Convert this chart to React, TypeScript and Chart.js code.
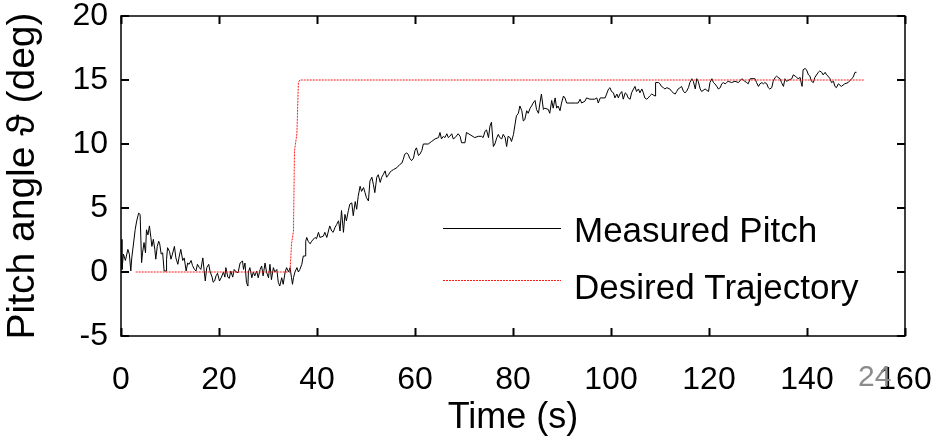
import React, { useEffect, useRef } from "react";
import { Chart, registerables } from "chart.js";

Chart.register(...registerables);

// ---- data ----
const timeSeg1 = [
  0, 0.2, 0.5, 0.9, 1.4, 1.7, 2.0, 2.2, 2.9, 3.2,
  3.6, 3.9, 4.2, 4.4, 4.7, 5.0, 5.2, 5.5, 5.8, 6.1,
  6.3, 6.6, 6.9, 7.1, 7.4, 7.7, 7.9, 8.2, 8.5, 8.8,
  9.2, 9.3, 9.5, 9.9, 10.2, 10.5, 10.9, 11.2, 11.6, 11.9,
  12.2, 12.6, 12.9, 13.3, 13.6, 13.9, 14.3, 14.6, 15.0, 15.3,
  15.6, 16.0, 16.3, 16.7, 17.0, 17.2, 17.5, 17.9, 18.2, 18.6,
  18.8, 19.1, 19.4, 19.7, 20.1, 20.5, 20.9, 21.2, 21.4, 21.8,
  22.1, 22.4, 22.8, 23.1, 23.5,
];
const pitchSeg1 = [
  2.55, 0.2, 1.4, 0.9, 1.77, 1.4, 0.08, 1.1, 3.33, 3.98,
  4.6, 4.5, 0.73, 1.5, 2.3, 1.5, 3.3, 2.9, 3.6, 2.7,
  2.0, 2.55, 1.77, 1.0, 2.0, 2.4, 2.2, 1.4, 1.5, 0.08,
  0.08, 1.0, 1.9, 1.6, 1.0, 1.4, 2.0, 1.1, 0.6, 1.25,
  1.77, 0.9, 1.1, 0.08, 0.7, 0.6, 0.9, 0.5, 0.2, 0.08,
  0.6, 0.34, 0.2, 1.1, 0.0, -0.7, 0.34, 0.6, 0.0, -0.4,
  -0.8, -0.7, -0.3, -0.1, -0.7, -0.4, 0.0, -0.4, 0.34, -0.4,
  -0.5, 0.08, -0.4, 0.2, 0.0,
];

const timeSeg2 = [
  23.9, 24.3, 24.8, 25.0, 25.3, 25.6, 25.9, 26.0, 26.3, 26.7,
  27.0, 27.3, 27.7, 28.0, 28.4, 28.7, 29.0, 29.4, 29.7, 30.1,
  30.4, 30.7, 31.1, 31.4, 31.8, 32.1, 32.4, 32.8, 33.1, 33.5,
  33.8, 34.2, 34.5, 34.8, 35.0, 35.2, 35.5, 35.9, 36.2, 36.5,
  36.9, 37.2, 37.6, 37.7, 37.9, 38.2, 38.6, 38.9, 39.6, 39.9,
  40.3, 40.6, 41.3, 41.6, 42.0, 42.6, 43.0, 43.3, 43.7, 44.0,
  44.4, 44.7, 45.0, 45.4, 45.7, 46.0, 46.4, 46.7, 47.1, 47.4,
  47.8,
];
const pitchSeg2 = [
  -0.05, 0.7, 0.86, 0.2, 0.7, -0.8, -1.1, 0.0, 0.34, -0.45,
  0.0, -0.3, 0.08, -0.45, 0.2, 0.47, -0.3, 0.7, 0.0, -0.45,
  0.6, -0.6, 0.34, 0.0, 0.2, -0.8, -1.1, -0.45, -0.96, 0.0,
  0.34, 0.0, 0.34, -0.45, -0.96, -0.45, 0.0, 0.34, 0.0, 0.2,
  0.6, 1.25, 1.25, 2.4, 2.7, 2.4, 2.2, 2.4, 2.7, 2.6,
  3.1, 2.7, 2.8, 3.1, 2.7, 3.6, 3.2, 3.1, 3.5, 3.7,
  4.0, 3.2, 4.8, 3.1, 4.5, 4.0, 4.8, 5.3, 5.4, 4.4,
  5.5,
];

const timeSeg3 = [
  48.1, 48.4, 48.8, 49.1, 49.5, 49.8, 50.1, 50.5, 50.8, 51.2,
  51.5, 51.8, 52.2, 52.5, 52.9, 53.2, 53.5, 53.9, 54.2, 54.6,
  54.9, 55.2, 55.6, 56.3, 56.9, 57.3, 57.6, 57.9, 58.3, 58.6,
  58.9, 59.3, 59.7, 60.0, 60.3, 60.7, 61.0, 61.4, 61.7, 62.7,
  63.4, 64.1, 64.8, 65.1, 65.4, 65.8, 66.1, 66.5, 66.8, 67.1,
  67.5, 67.8, 68.2, 68.8, 69.2, 69.5, 70.2, 70.5,
];
const pitchSeg3 = [
  4.9, 5.9, 6.7, 6.3, 6.6, 6.2, 5.8, 5.55, 7.1, 7.4,
  6.85, 6.2, 7.4, 7.6, 7.0, 7.4, 7.6, 7.9, 7.4, 7.6,
  7.8, 7.9, 8.0, 8.15, 8.4, 8.5, 8.8, 9.2, 9.3, 9.2,
  8.9, 8.7, 8.9, 9.5, 9.7, 9.1, 9.2, 9.5, 10.0, 10.0,
  10.2, 10.4, 10.5, 10.9, 10.4, 10.6, 10.5, 10.8, 10.5, 10.6,
  10.8, 10.4, 10.5, 10.8, 10.6, 10.1, 10.1, 10.9,
];

const timeSeg4 = [
  72.2, 72.9, 73.6, 73.9, 74.3, 74.6, 75.0, 75.3, 75.6, 76.0,
  76.3, 76.7, 77.0, 77.3, 77.7, 78.0, 78.4, 78.7, 79.0, 79.4,
  79.7, 80.1, 80.4, 80.7, 81.1, 81.4, 81.8, 82.1, 82.4, 82.8,
  83.1, 83.5, 83.8, 84.1, 84.5, 84.8, 85.2, 85.5, 85.8, 86.2,
  86.5, 87.2, 87.5, 87.9, 88.2, 88.6, 88.9, 89.2, 89.6, 89.9,
  90.3, 90.6, 90.95, 92.7, 93.3, 93.7, 94.0, 94.7, 95.0, 95.7,
];
const pitchSeg4 = [
  10.5, 10.6, 10.6, 10.5, 11.0, 11.1, 10.5, 11.4, 11.7, 9.8,
  10.0, 10.5, 10.75, 10.5, 10.4, 10.75, 10.5, 9.8, 10.6, 10.5,
  10.2, 10.75, 11.5, 12.2, 12.4, 12.97, 12.6, 11.8, 11.9, 12.6,
  12.4, 12.8, 12.97, 13.2, 13.4, 12.7, 12.4, 13.2, 13.9, 12.7,
  12.8, 12.7, 12.4, 13.4, 12.8, 13.6, 12.8, 12.97, 12.6, 13.2,
  13.75, 13.6, 13.2, 13.2, 13.2, 13.5, 13.2, 13.35, 13.6, 13.5,
];

const timeSeg5 = [
  96.7, 97.1, 97.4, 97.8, 98.8, 99.1, 99.5, 99.8, 100.1, 100.5,
  100.8, 101.2, 101.5, 101.8, 102.2, 102.5, 102.9, 103.2, 103.5, 103.9,
  104.2, 104.6, 104.9, 105.2, 105.6, 105.9, 106.3, 106.6, 106.9, 107.3,
  107.6, 107.9, 108.3, 109.0, 109.1, 109.7, 110.0, 110.3, 110.7, 111.0,
  111.4, 112.0, 112.4, 112.7, 113.1, 113.4, 113.7, 114.1, 114.4, 114.8,
  115.1, 115.4, 115.8, 116.1, 116.5, 116.8, 117.2, 117.5, 117.8, 118.2,
  118.5, 119.2, 119.9, 120.2, 120.6, 120.9, 121.2, 121.6, 121.9, 122.3,
  122.6, 122.9, 123.3, 123.6, 123.9,
];
const pitchSeg5 = [
  13.5, 13.6, 13.2, 13.6, 13.6, 13.9, 14.3, 14.4, 14.1, 14.0,
  13.6, 13.9, 13.6, 13.9, 14.1, 13.5, 14.0, 13.9, 13.6, 13.5,
  14.0, 14.3, 14.5, 14.1, 14.3, 14.0, 14.3, 14.0, 13.6, 13.5,
  13.6, 13.75, 13.9, 13.75, 14.8, 14.8, 14.7, 14.5, 14.4, 14.3,
  14.4, 14.3, 14.1, 14.0, 13.9, 14.1, 14.3, 14.4, 14.5, 14.1,
  14.0, 14.1, 14.4, 14.8, 15.1, 14.9, 14.3, 15.1, 14.9, 14.3,
  14.1, 14.3, 14.1, 14.8, 15.1, 14.8, 14.7, 14.5, 14.3, 14.4,
  14.7, 14.8, 14.7, 14.8, 14.9,
];

const timeSeg6 = [
  124.6, 125.3, 126.0, 126.7, 127.3, 127.7, 128.0, 128.4, 129.4, 129.7,
  130.1, 130.4, 130.8, 131.1, 131.4, 131.8, 132.1, 132.4, 132.8, 133.1,
  133.5, 133.8, 134.1, 134.5, 134.8, 135.2, 135.5, 135.8, 136.9, 137.2,
  137.6, 137.9, 138.2, 138.6, 138.8, 139.0, 139.2, 139.6, 139.9, 140.3,
  140.6, 140.9, 141.3, 141.6, 142.3, 142.6, 143.0, 143.3, 143.7, 144.0,
  144.3, 144.7, 145.0, 145.4, 145.7, 146.0, 146.4, 147.0, 147.7, 148.4,
  149.1, 149.4, 149.8, 150.1,
];
const pitchSeg6 = [
  14.8, 14.9, 14.8, 15.1, 14.9, 14.8, 14.7, 15.1, 15.1, 14.8,
  14.5, 14.7, 14.8, 14.7, 14.8, 14.7, 14.4, 14.3, 14.4, 14.9,
  15.2, 15.3, 15.2, 15.1, 14.8, 14.5, 15.1, 14.9, 15.1, 15.4,
  15.3, 15.2, 15.1, 15.2, 14.8, 14.5, 15.8, 15.9, 15.8, 15.4,
  15.3, 14.9, 14.8, 15.2, 15.6, 15.7, 15.6, 15.4, 15.6, 15.4,
  15.3, 15.1, 14.8, 14.9, 14.5, 14.4, 14.7, 14.5, 14.7, 14.8,
  15.1, 15.2, 15.6, 15.6,
];

const desiredTime = [3, 34.5, 34.8, 35.2, 35.4, 35.9, 36.2, 36.5, 151.8];
const desiredPitch = [0, 0, 2.2, 3.2, 9.45, 10.8, 14.8, 15, 15];

const xTicks = [0, 20, 40, 60, 80, 100, 120, 140, 160];
const yTicks = [-5, 0, 5, 10, 15, 20];

const seriesLabels = ["Measured Pitch", "Desired Trajectory"];
const xTitle = "Time (s)";
const yTitle = "Pitch angle \u03D1 (deg)";
const pageNumber = "24";

// ---- helpers ----
const timeSegs = [timeSeg1, timeSeg2, timeSeg3, timeSeg4, timeSeg5, timeSeg6];
const pitchSegs = [pitchSeg1, pitchSeg2, pitchSeg3, pitchSeg4, pitchSeg5, pitchSeg6];

function buildPoints(ts: number[], vs: number[]) {
  const n = Math.min(ts.length, vs.length);
  const out: { x: number; y: number }[] = [];
  for (let i = 0; i < n; i++) out.push({ x: ts[i], y: vs[i] });
  return out;
}

const SANS = '"Liberation Sans", Arial, sans-serif';

const framePlugin = {
  id: "matlabFrame",
  afterDatasetsDraw(chart: any) {
    const { ctx, chartArea: ca, scales } = chart;
    ctx.save();
    ctx.strokeStyle = "#000";
    ctx.lineWidth = 1.5;
    ctx.strokeRect(ca.left, ca.top, ca.right - ca.left, ca.bottom - ca.top);
    ctx.lineWidth = 2;
    const len = 8;
    ctx.beginPath();
    for (const v of xTicks) {
      const px = Math.round(scales.x.getPixelForValue(v)) + 0.5;
      ctx.moveTo(px, ca.bottom);
      ctx.lineTo(px, ca.bottom - len);
      ctx.moveTo(px, ca.top);
      ctx.lineTo(px, ca.top + len);
    }
    for (const v of yTicks) {
      const py = Math.round(scales.y.getPixelForValue(v));
      ctx.moveTo(ca.left, py);
      ctx.lineTo(ca.left + len, py);
      ctx.moveTo(ca.right, py);
      ctx.lineTo(ca.right - len, py);
    }
    ctx.stroke();
    ctx.restore();
  },
};

const legendPlugin = {
  id: "insideLegend",
  afterDraw(chart: any) {
    const { ctx, chartArea: ca } = chart;
    const ds = chart.data.datasets;
    const lineX0 = ca.left + 322;
    const lineX1 = ca.left + 440;
    const textX = ca.left + 453;
    const rows = [
      { lineY: ca.top + 212.5, textY: ca.top + 216 },
      { lineY: ca.top + 264.5, textY: ca.top + 273 },
    ];
    ctx.save();
    ctx.font = `35px ${SANS}`;
    ctx.textBaseline = "middle";
    ctx.textAlign = "left";
    ds.forEach((d: any, i: number) => {
      const r = rows[i];
      ctx.strokeStyle = d.borderColor;
      ctx.lineWidth = 1;
      ctx.setLineDash(d.borderDash || []);
      ctx.beginPath();
      ctx.moveTo(lineX0, r.lineY);
      ctx.lineTo(lineX1, r.lineY);
      ctx.stroke();
      ctx.setLineDash([]);
      ctx.fillStyle = "#000";
      ctx.fillText(d.label, textX, r.textY);
    });
    ctx.restore();
  },
};

export default function App() {
  const canvasRef = useRef<HTMLCanvasElement | null>(null);

  useEffect(() => {
    document.body.style.margin = "0";
    const canvas = canvasRef.current;
    if (!canvas) return;
    const measured: { x: number; y: number }[] = [];
    timeSegs.forEach((ts, i) => measured.push(...buildPoints(ts, pitchSegs[i])));
    const desired = buildPoints(desiredTime, desiredPitch);

    const chart = new Chart(canvas, {
      type: "line",
      data: {
        datasets: [
          {
            label: seriesLabels[0],
            data: measured,
            borderColor: "#000000",
            borderWidth: 1,
            pointRadius: 0,
            tension: 0,
            fill: false,
            order: 1,
          },
          {
            label: seriesLabels[1],
            data: desired,
            borderColor: "#ff1a1a",
            borderWidth: 1,
            borderDash: [2, 1],
            pointRadius: 0,
            tension: 0,
            fill: false,
            order: 0,
          },
        ],
      },
      options: {
        animation: false,
        responsive: false,
        events: [],
        layout: { padding: { top: 16, right: 37, left: 0, bottom: 0 } },
        plugins: {
          legend: { display: false },
          tooltip: { enabled: false },
        },
        scales: {
          x: {
            type: "linear",
            min: 0,
            max: 160,
            afterBuildTicks: (s: any) => {
              s.ticks = xTicks.map((v) => ({ value: v }));
            },
            afterFit: (s: any) => {
              s.height = 104;
              s.paddingLeft = 0;
              s.paddingRight = 0;
            },
            grid: { display: false, drawTicks: false },
            border: { display: false },
            ticks: {
              color: "#000",
              padding: 25,
              autoSkip: false,
              maxRotation: 0,
              font: { family: SANS, size: 32 },
            },
            title: {
              display: true,
              text: xTitle,
              color: "#000",
              padding: 0,
              font: { family: SANS, size: 36 },
            },
          },
          y: {
            type: "linear",
            min: -5,
            max: 20,
            afterBuildTicks: (s: any) => {
              s.ticks = yTicks.map((v) => ({ value: v }));
            },
            afterFit: (s: any) => {
              s.width = 121;
              s.paddingTop = 0;
              s.paddingBottom = 0;
            },
            grid: { display: false, drawTicks: false },
            border: { display: false },
            ticks: {
              color: "#000",
              padding: 13,
              autoSkip: false,
              font: { family: SANS, size: 32, lineHeight: 0.8 },
            },
            title: {
              display: true,
              text: yTitle,
              color: "#000",
              padding: 0,
              font: { family: SANS, size: 39 },
            },
          },
        },
      },
      plugins: [framePlugin, legendPlugin],
    } as any);

    return () => {
      chart.destroy();
    };
  }, []);

  return (
    <div style={{ position: "relative", width: 942, height: 440, background: "#fff", overflow: "hidden" }}>
      <canvas ref={canvasRef} width={942} height={440} style={{ display: "block" }} />
      <span
        style={{
          position: "absolute",
          left: 858,
          top: 358,
          fontFamily: SANS,
          fontSize: 30,
          lineHeight: "36px",
          color: "#8c8c8c",
        }}
      >
        {pageNumber}
      </span>
    </div>
  );
}
